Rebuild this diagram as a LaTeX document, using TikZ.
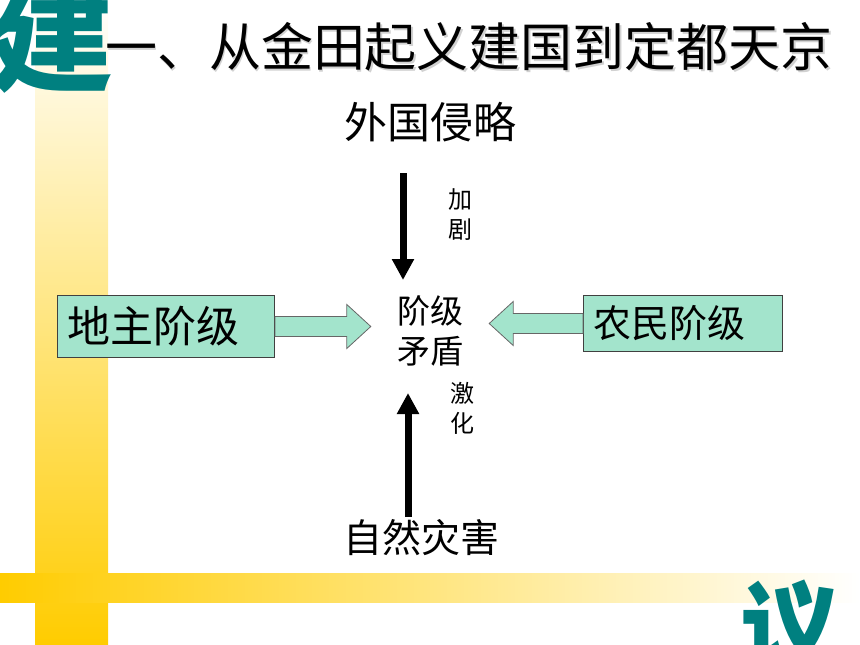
\documentclass[tikz,border=0pt]{standalone}
\usepackage{fontspec}
\newfontfamily\cjk{Noto Sans CJK SC}
\usepackage{tikz}
\usetikzlibrary{positioning}
\usetikzlibrary{calc}
\usetikzlibrary{arrows.meta}

\definecolor{tealmark}{RGB}{0,128,128}
\definecolor{mint}{RGB}{163,228,204}
\definecolor{bargold}{RGB}{255,204,0}

\tikzset{
  classbox/.style={draw=black!75,fill=mint,line width=1pt,inner xsep=10pt,align=left},
  fatarr/.style={draw=black!60,fill=mint,line width=0.8pt},
  forcearrow/.style={line width=7pt,-{Triangle[width=21pt,length=21pt]}},
  note/.style={font=\cjk\fontsize{24}{30}\selectfont,align=center,inner sep=0pt},
}

% fat block arrow from #1 to #2 (horizontal)
\newcommand\blockarrow[2]{%
  \draw[fatarr] let \p1=(#1), \p2=(#2), \n2={\x2-((\x2>\x1)*2-1)*24pt} in
    ({\x1},{\y1+10pt}) -- ({\n2},{\y1+10pt}) -- ({\n2},{\y1+22pt})
    -- ({\x2},{\y1}) -- ({\n2},{\y1-22pt}) -- ({\n2},{\y1-10pt})
    -- ({\x1},{\y1-10pt}) -- cycle;}

\begin{document}
\begin{tikzpicture}[x=1pt,y=-1pt,font=\cjk]
      \useasboundingbox (0,0) rectangle (860,645);
      % background bars
      \shade[top color=white,bottom color=bargold] (35,0) rectangle (108,645);
      \shade[left color=bargold,right color=white] (0,573) rectangle (860,602);
      \node[text=tealmark,font=\cjk\bfseries\fontsize{125}{125}\selectfont,inner sep=0pt] (jian) at (52,34) {建};
      \node[text=tealmark,font=\cjk\bfseries\fontsize{100}{100}\selectfont,inner sep=0pt] (yi) at (790,628) {议};
      % title with shadow
      \node[text=black!18,font=\cjk\fontsize{52}{60}\selectfont,inner sep=0pt] at (470.5,48.5) {一、从金田起义建国到定都天京};
      \node[font=\cjk\fontsize{52}{60}\selectfont,inner sep=0pt] (title) at (469,47) {一、从金田起义建国到定都天京};

      \node[font=\cjk\fontsize{43}{50}\selectfont] (invasion) at (430,122) {外国侵略};
      \node[font=\cjk\fontsize{39}{46}\selectfont] (nature) at (421,538) {自然灾害};
      \node[font=\cjk\fontsize{33}{40}\selectfont,align=center,inner xsep=26pt] (conflict) at (430,331) {阶级\\矛盾};
      \node[classbox,anchor=north west,text width=197pt,minimum height=62pt,
            font=\cjk\fontsize{43}{50}\selectfont] (landlord) at (57,295) {地主阶级};
      \node[classbox,anchor=north west,text width=179pt,minimum height=56pt,
            font=\cjk\fontsize{38}{46}\selectfont] (peasant) at (583,295) {农民阶级};

      \blockarrow{landlord.east}{conflict.west}
      \blockarrow{peasant.west}{conflict.east}

      \coordinate (dtop) at (403,173);
      \coordinate (dtip) at (403,280);
      \coordinate (ubase) at (408,517);
      \coordinate (utip) at (408,393);
      \draw[forcearrow] (dtop) -- (dtip);
      \draw[forcearrow] (ubase) -- (utip);
      \node[note] (worsen) at (460,215) {加\\剧};
      \node[note] (sharpen) at (462,408) {激\\化};
\end{tikzpicture}
\end{document}
